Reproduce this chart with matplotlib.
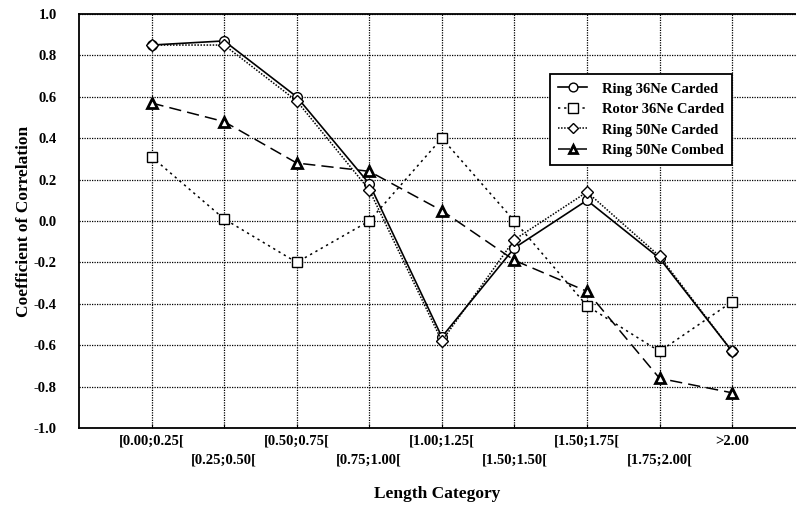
import matplotlib.pyplot as plt

# data
categories = ["[0.00;0.25[", "[0.25;0.50[", "[0.50;0.75[", "[0.75;1.00[",
              "[1.00;1.25[", "[1.50;1.50[", "[1.50;1.75[", "[1.75;2.00[", ">2.00"]

ring36_carded = [0.85, 0.87, 0.60, 0.18, -0.56, -0.13, 0.10, -0.18, -0.63]
rotor36_carded = [0.31, 0.01, -0.20, 0.00, 0.40, 0.00, -0.41, -0.63, -0.39]
ring50_carded = [0.85, 0.85, 0.58, 0.15, -0.58, -0.09, 0.14, -0.17, -0.63]
ring50_combed = [0.57, 0.48, 0.28, 0.24, 0.05, -0.19, -0.34, -0.76, -0.83]

plt.rcParams["font.family"] = ["Liberation Serif", "DejaVu Serif"]
plt.rcParams["font.weight"] = "bold"

fig = plt.figure(figsize=(7.96, 5.08), dpi=100)
ax = fig.add_axes([79 / 796, 80 / 508, 1 - 79 / 796, 414 / 508])

x = list(range(len(categories)))

ax.plot(x, ring36_carded, color="black", lw=1.2, linestyle="-",
        marker="o", ms=7, mfc="white", mec="black", mew=1.0, label="Ring 36Ne Carded")
ax.plot(x, rotor36_carded, color="black", lw=1.1, linestyle=(0, (1.5, 2.5)),
        marker="s", ms=7.5, mfc="white", mec="black", mew=1.0, label="Rotor 36Ne Carded")
ax.plot(x, ring50_carded, color="black", lw=1.1, linestyle=(0, (1, 1)),
        marker="D", ms=6, mfc="white", mec="black", mew=1.0, label="Ring 50Ne Carded")
ax.plot(x, ring50_combed, color="black", lw=1.1, linestyle=(0, (8, 4)),
        marker="^", ms=6.5, mfc="white", mec="black", mew=2.0, label="Ring 50Ne Combed")

ax.set_xlim(-1, 8.88)
ax.set_ylim(-1.0, 1.0)
ax.set_yticks([i / 10 for i in range(-10, 11, 2)])
ax.set_yticklabels(["%.1f" % (i / 10) for i in range(-10, 11, 2)], fontsize=10.5, fontweight="bold")
ax.set_xticks(x)
ax.set_xticklabels([c if i % 2 == 0 else "\n" + c for i, c in enumerate(categories)],
                   fontsize=10.5, fontweight="bold", linespacing=1.55)
ax.tick_params(axis="x", direction="in", length=3, pad=5)
ax.tick_params(axis="y", length=0, pad=16)

ax.grid(True, color="black", linestyle=(0, (1, 1)), linewidth=0.9)
ax.spines["right"].set_visible(False)
for s in ["top", "left", "bottom"]:
    ax.spines[s].set_linewidth(1.3)

ax.set_xlabel("Length Category", fontsize=12.5, fontweight="bold", labelpad=14)
ax.set_ylabel("Coefficient of Correlation", fontsize=12.5, fontweight="bold", labelpad=1)

leg = ax.legend(loc="upper left", bbox_to_anchor=((543 - 79) / 717, (428 - 67) / 414),
                fontsize=10.5, frameon=True, fancybox=False, edgecolor="black",
                handlelength=2.0, borderpad=0.55, labelspacing=0.5, handletextpad=1.0,
                markerscale=0.9)
leg.get_frame().set_linewidth(1.3)
leg.get_frame().set_alpha(1)

fig.savefig("out.png", dpi=100)
